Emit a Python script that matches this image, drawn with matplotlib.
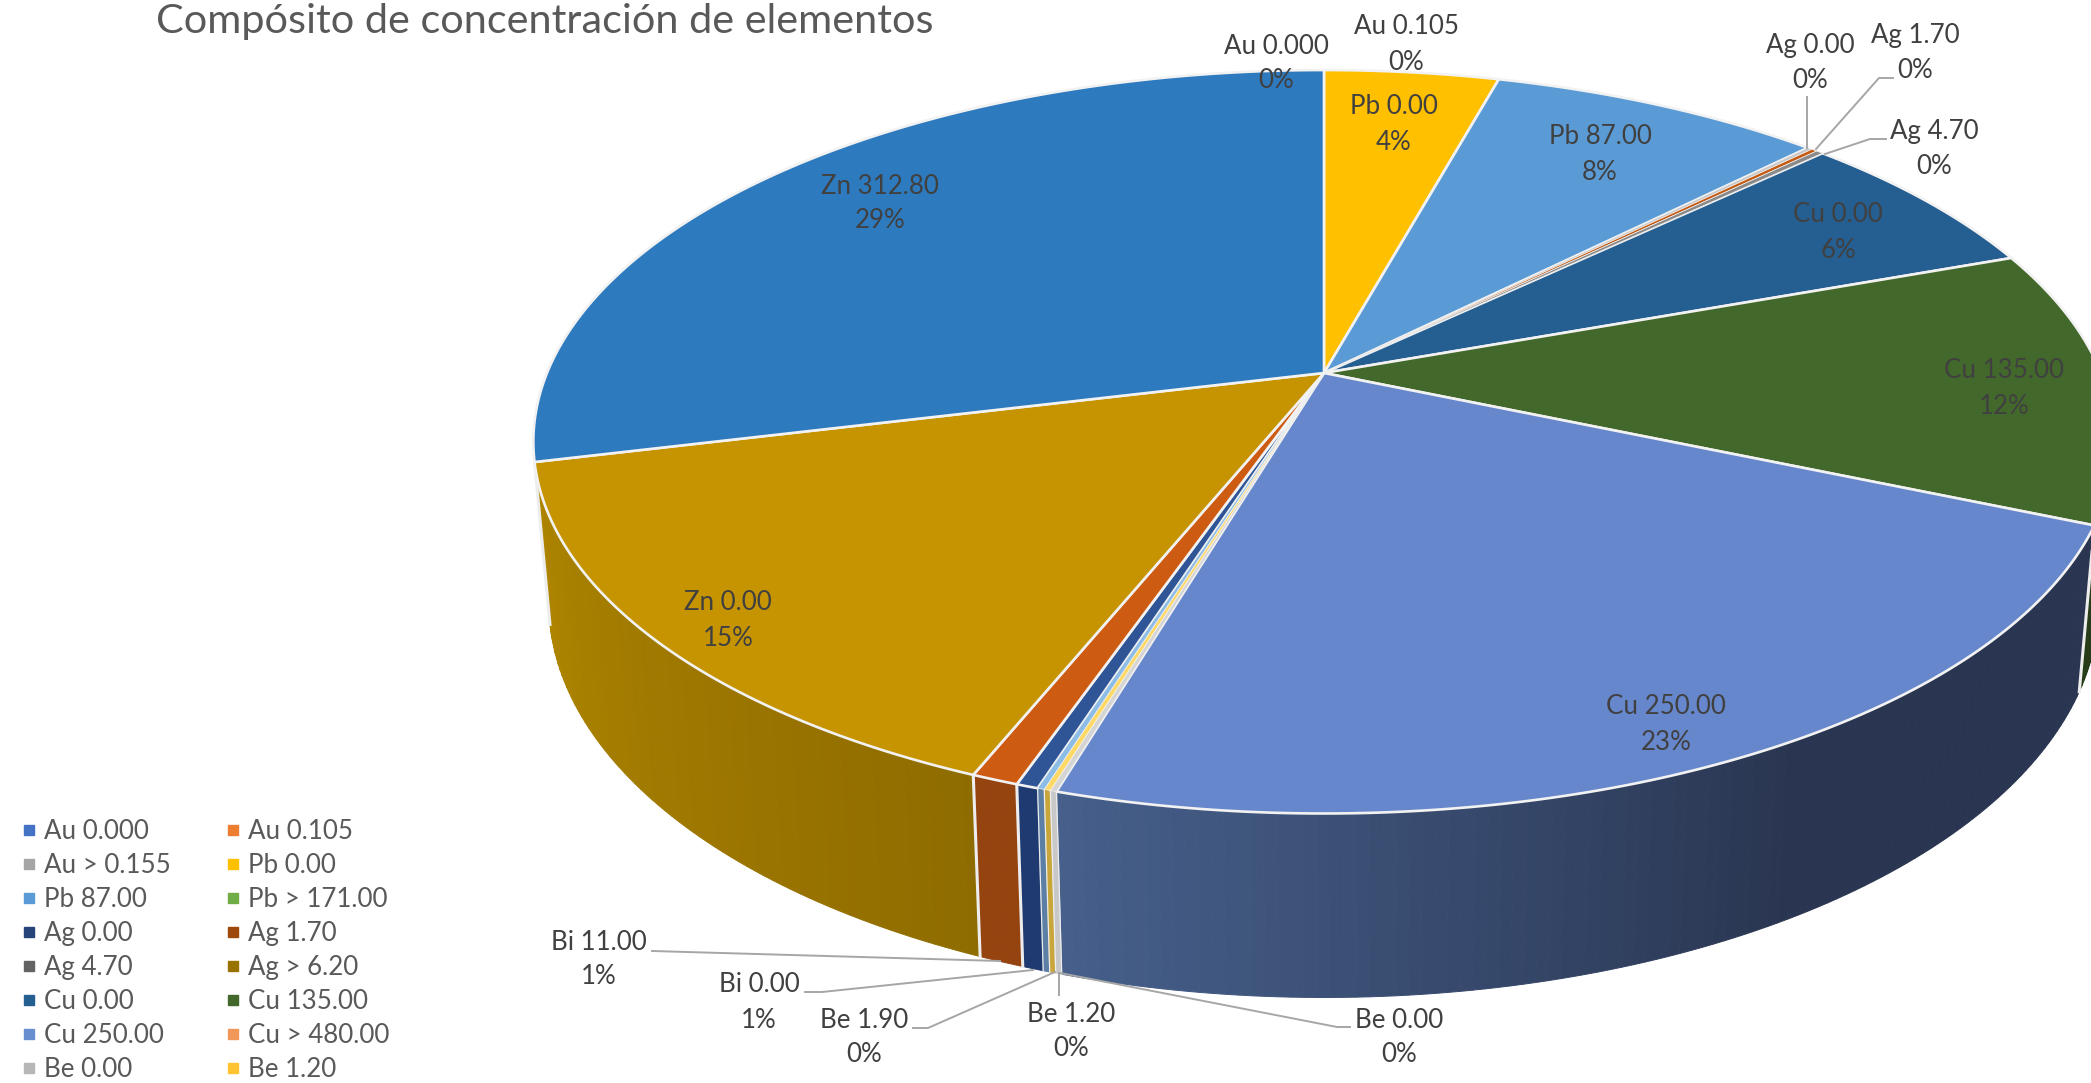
import numpy as np
import matplotlib
matplotlib.use("Agg")
import matplotlib.pyplot as plt
from matplotlib.lines import Line2D

# ---- data -------------------------------------------------------------
slice_names = ["Pb 0.00", "Pb 87.00", "Ag 0.00", "Ag 1.70", "Ag 4.70", "Cu 0.00",
               "Cu 135.00", "Cu 250.00", "Be 0.00", "Be 1.20", "Be 1.90",
               "Bi 0.00", "Bi 11.00", "Zn 0.00", "Zn 312.80"]
slice_shares = [4.27, 8.17, 0.12, 0.14, 0.17, 6.6, 11.97, 23.13, 0.11, 0.11, 0.12, 0.38, 0.81, 15.09, 28.81]
slice_colors = ["#FFC000", "#5B9BD5", "#C8C8C8", "#C55A11", "#8A8A8A", "#255E91",
                "#43682B", "#6787CC", "#D5D5D5", "#FFD966", "#8DBDE6",
                "#2F5597", "#CE5B12", "#C69400", "#2E7ABF"]
wall_far = ["#000000"] * 6 + ["#263C18", "#2A3651", "#C8C8C8", "#C9A63A", "#5C7FA6", "#1F3A70", "#95430F", "#8F6C00", "#205888"]
wall_near = ["#000000"] * 6 + ["#263C18", "#46608C", "#C8C8C8", "#C9A63A", "#5C7FA6", "#1F3A70", "#95430F", "#B08600", "#205888"]

legend_left = ["Au 0.000", "Au > 0.155", "Pb 87.00", "Ag 0.00", "Ag 4.70", "Cu 0.00", "Cu 250.00", "Be 0.00"]
legend_left_colors = ["#4472C4", "#A5A5A5", "#5B9BD5", "#264478", "#636363", "#255E91", "#698ED0", "#B7B7B7"]
legend_right = ["Au 0.105", "Pb 0.00", "Pb > 171.00", "Ag 1.70", "Ag > 6.20", "Cu 135.00", "Cu > 480.00", "Be 1.20"]
legend_right_colors = ["#ED7D31", "#FFC000", "#70AD47", "#9E480E", "#997300", "#43682B", "#F1975A", "#FFC42F"]

label_names = ["Au 0.000", "Au 0.105", "Pb 0.00", "Pb 87.00", "Ag 0.00", "Ag 1.70", "Ag 4.70", "Cu 0.00",
               "Cu 135.00", "Cu 250.00", "Zn 312.80", "Zn 0.00", "Bi 11.00", "Bi 0.00", "Be 1.90", "Be 1.20", "Be 0.00"]
label_pcts = ["0%", "0%", "4%", "8%", "0%", "0%", "0%", "6%", "12%", "23%", "29%", "15%", "1%", "1%", "0%", "0%", "0%"]
label_x = [1276, 1406, 1394, 1600, 1810, 1915, 1934, 1838, 2004, 1666, 880, 728, 599, 759, 864, 1071, 1399]
label_y = [46, 27, 107, 137, 45, 35, 131, 215, 371, 707, 186, 603, 942, 985, 1020, 1014, 1020]

title = "Compósito de concentración de elementos"

# ---- projection of the pie --------------------------------------------
CX, CY, A, B, K, D, S = 1324.0, 373.0, 777.0, 359.0, 0.185, 157.0, 0.02
WALL_FROM, WALL_TO = np.radians(92), np.radians(268)
SHADE_FROM = {"Cu 250.00": np.radians(150)}


def project(theta, z=0.0):
    u, v = np.sin(theta), -np.cos(theta)
    w = 1 - K * v
    s = 1 + S * z
    return CX + A * u / (w * s), CY + (B * v / s + D * z) / w


def mix(c1, c2, t):
    a, b = np.array(matplotlib.colors.to_rgb(c1)), np.array(matplotlib.colors.to_rgb(c2))
    return tuple(a + (b - a) * t)


plt.rcParams["font.family"] = ["Lato", "DejaVu Sans"]
fig = plt.figure(figsize=(20.91, 10.83), dpi=100)
ax = fig.add_axes([0, 0, 1, 1])
ax.set_xlim(0, 2091)
ax.set_ylim(1083, 0)
ax.axis("off")

shares = np.array(slice_shares, dtype=float)
edges = np.concatenate([[0], np.cumsum(shares)]) / shares.sum() * 2 * np.pi

# side walls, from the outer ends towards the front
order = sorted(range(len(shares)), key=lambda i: -abs((edges[i] + edges[i + 1]) / 2 - np.pi))
for i in order:
    a0, a1 = edges[i], edges[i + 1]
    if a1 < WALL_FROM or a0 > WALL_TO:
        continue
    a0c, a1c = max(a0, WALL_FROM), min(a1, WALL_TO)
    n = max(1, int((a1c - a0c) / np.radians(0.8)))
    ths = np.linspace(a0c, a1c, n + 1)
    name = slice_names[i]
    start = SHADE_FROM.get(name, a0)
    for j in range(n):
        mid = (ths[j] + ths[j + 1]) / 2
        t = np.clip((mid - start) / (a1 - start), 0, 1)
        col = mix(wall_far[i], wall_near[i], t)
        th = np.linspace(ths[j], ths[j + 1], 3)
        x0, y0 = project(th)
        x1, y1 = project(th[::-1], 1.0)
        ax.fill(np.r_[x0, x1], np.r_[y0, y1], color=col, lw=0.7, zorder=2)
for k, a in enumerate(edges):
    if WALL_FROM < a < WALL_TO:
        thin = shares[k - 1] < 0.2 or (k < len(shares) and shares[k] < 0.2)
        xs, ys = zip(project(a), project(a, 1.0))
        ax.plot(xs, ys, color="#EDEDED", lw=0.9 if thin else 2.2, zorder=3)

# top face
for i in range(len(shares)):
    a0, a1 = edges[i], edges[i + 1]
    n = max(3, int((a1 - a0) / np.radians(0.5)))
    th = np.linspace(a0, a1, n)
    x, y = project(th)
    x = np.r_[CX, x]
    y = np.r_[CY, y]
    thin = shares[i] < 0.2
    ax.fill(x, y, facecolor=slice_colors[i], edgecolor="#F2F2F2", lw=0.5 if thin else 1.9,
            zorder=5 if thin else 4, joinstyle="round")

# leader lines
leaders = [
    [(1807, 97), (1807, 148)],
    [(1893, 78), (1879, 78), (1816, 149)],
    [(1886, 139), (1870, 139), (1825, 154)],
    [(652, 951), (1000, 961)],
    [(805, 992), (822, 992), (1033, 970)],
    [(913, 1028), (928, 1028), (1055, 972)],
    [(1059, 995), (1059, 973)],
    [(1350, 1027), (1337, 1027), (1060, 973)],
]
for pts in leaders:
    xs, ys = zip(*pts)
    ax.plot(xs, ys, color="#A6A6A6", lw=1.4, zorder=6)

# labels
for name, pct, x, y in zip(label_names, label_pcts, label_x, label_y):
    ax.text(x, y, name, ha="center", va="center", fontsize=18.6, color="#404040", zorder=7)
    ax.text(x, y + 35, pct, ha="center", va="center", fontsize=18.6, color="#404040", zorder=7)

ax.text(156, 22, title, ha="left", va="center", fontsize=29.8, color="#595959", zorder=7)

# legend
handles, names = [], []
for n, c in zip(legend_left + legend_right, legend_left_colors + legend_right_colors):
    handles.append(Line2D([], [], linestyle="none", marker="s", markersize=6.5, color=c))
    names.append(n)
ax.legend(handles, names, ncols=2, frameon=False, loc="upper left", bbox_to_anchor=(21 / 2091, 1 - 819 / 1083),
          fontsize=18.6, labelcolor="#595959", handlelength=0.6, handletextpad=0.3,
          columnspacing=2.1, labelspacing=0.35, borderpad=0, borderaxespad=0)

fig.savefig("out.png", dpi=100)
